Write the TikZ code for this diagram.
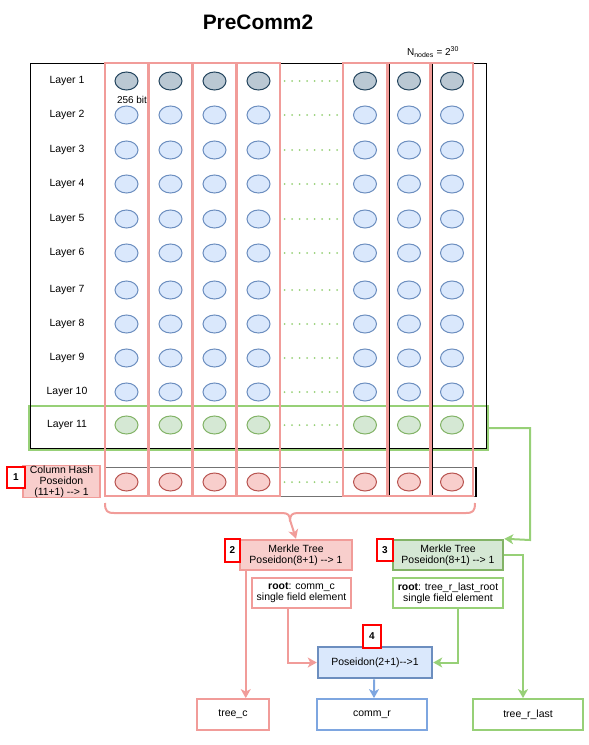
\documentclass[tikz,border=0pt]{standalone}
\usepackage{fontspec}
\setmainfont{Liberation Sans}
\usetikzlibrary{arrows.meta,shapes.geometric}
\definecolor{pinkln}{HTML}{F19C99}
\definecolor{redfill}{HTML}{F8CECC}
\definecolor{redln}{HTML}{B85450}
\definecolor{bluefill}{HTML}{DAE8FC}
\definecolor{blueln}{HTML}{6C8EBF}
\definecolor{ltblue}{HTML}{7EA6E0}
\definecolor{greenfill}{HTML}{D5E8D4}
\definecolor{greenln}{HTML}{82B366}
\definecolor{ltgreen}{HTML}{97D077}
\definecolor{greyfill}{HTML}{BAC8D3}
\definecolor{greyln}{HTML}{23445D}
\begin{document}
\begin{tikzpicture}[x=1bp,y=-1bp,
  txt/.style={font=\fontsize{10.5}{11}\selectfont, inner sep=0pt, align=center},
  ell/.style={ellipse, inner sep=0pt, minimum width=23bp, minimum height=18bp, line width=1bp},
  ellgrey/.style={ell, fill=greyfill, draw=greyln},
  ellblue/.style={ell, fill=bluefill, draw=blueln},
  ellgreen/.style={ell, fill=greenfill, draw=greenln},
  ellred/.style={ell, fill=redfill, draw=redln},
  colbox/.style={draw=pinkln, line width=2bp},
  dotline/.style={draw=ltgreen, line width=2bp, line cap=round, dash pattern=on 0bp off 7.5bp},
  numbox/.style={draw=red, line width=2bp, fill=white, inner sep=0pt, font=\bfseries\fontsize{10}{12}\selectfont},
  box/.style={txt, minimum height=30bp, fill=white, line width=1.8bp},
  pinkarrow/.style={draw=pinkln, line width=2bp, -{Stealth[length=9bp,width=10bp,inset=2.5bp]}},
  greenarrow/.style={draw=ltgreen, line width=2bp, -{Stealth[length=9bp,width=10bp,inset=2.5bp]}},
  bluearrow/.style={draw=ltblue, line width=2bp, -{Stealth[length=9bp,width=10bp,inset=2.5bp]}}
]
\useasboundingbox (0,0) rectangle (589,745);

% title
\node[font=\bfseries\fontsize{21}{24}\selectfont, inner sep=0pt] (title) at (258,22) {PreComm2};
\node[txt, font=\fontsize{10}{12}\selectfont] (nn) at (433,52) {N\textsubscript{nodes} = 2\textsuperscript{30}};

% layer 11 green box and main grid
\node[draw=ltgreen, line width=2bp, minimum width=459bp, minimum height=44bp, inner sep=0pt, anchor=north west] (l11) at (28,405) {};
\node[draw=black, line width=1bp, minimum width=456bp, minimum height=385bp, inner sep=0pt, anchor=north west] (grid) at (30,63) {};
% column hash row
\node[draw=black!55, line width=1bp, minimum width=370bp, minimum height=29bp, inner sep=0pt, anchor=north west] (hrow) at (105,467) {};
\draw[black, line width=1.3bp] (hrow.north east) -- (hrow.south east);

% pink column boxes
\foreach \a/\b in {105/148,149/192,193/236,237/280,343/387,388/430,431/473}{
  \draw[colbox] (\a,63) rectangle (\b,496);
}
\draw[black, line width=1bp] (389.5,64) -- (389.5,495);
\draw[black, line width=1bp] (432.5,64) -- (432.5,495);

% layer labels
\foreach \r/\y in {1/81,2/115,3/150,4/184,5/219,6/253,7/290,8/324,9/358,10/392,11/425}{
  \node[txt] (lab\r) at (67,\y) {Layer \r};
}
\node[txt, font=\fontsize{10}{12}\selectfont] (bits) at (132,100) {256 bit};

% ellipses
\foreach \c/\x in {1/126.5,2/170.5,3/214.5,4/258.5,5/365,6/409,7/452}{
  \node[ellgrey] (e\c-1) at (\x,81) {};
  \foreach \r/\y in {2/115,3/150,4/184,5/219,6/253,7/290,8/324,9/358,10/392}{
    \node[ellblue] (e\c-\r) at (\x,\y) {};
  }
  \node[ellgreen] (e\c-11) at (\x,425) {};
  \node[ellred] (e\c-h) at (\x,482) {};
}
% dotted continuation
\foreach \r in {1,2,3,4,5,6,7,8,9,10,11,h}{
  \draw[dotline] ([xshift=14bp]e4-\r.east) -- ([xshift=-12bp]e5-\r.west);
}

% column hash
\node[txt, fill=redfill, draw=pinkln, line width=1.5bp, minimum width=77bp, minimum height=30bp] (chash) at (61.5,481.5) {Column Hash\\Poseidon\\(11+1) -{}-{}> 1};
\node[numbox, minimum width=18bp, minimum height=21bp] (n1) at (16,477.5) {1};

% brace
\draw[draw=pinkln, line width=2bp, line join=round]
  (105,503) .. controls (105,511) and (107,513) .. (114,513) -- (282,513)
  .. controls (288,513) and (290,515) .. (290,521)
  .. controls (290,515) and (292,513) .. (298,513) -- (466,513)
  .. controls (473,513) and (475,511) .. (475,503);
\coordinate (btip) at (290,520);

% merkle trees
\node[box, fill=redfill, draw=pinkln, line width=2.5bp, minimum width=112bp] (m2) at (296,555) {Merkle Tree\\Poseidon(8+1) -{}-{}> 1};
\node[numbox, minimum width=15bp, minimum height=23bp] (n2) at (232.5,550.5) {2};
\node[box, fill=greenfill, draw=greenln, line width=2.5bp, minimum width=110bp] (m3) at (448,555) {Merkle Tree\\Poseidon(8+1) -{}-{}> 1};
\node[numbox, minimum width=16bp, minimum height=22bp] (n3) at (385,550) {3};

% roots
\node[box, draw=pinkln, minimum width=99bp] (r2) at (301.5,593) {\textbf{root}: comm\_c\\single field element};
\node[box, draw=ltgreen, minimum width=110bp] (r3) at (448,593) {\textbf{root}: tree\_r\_last\_root\\single field element};

% poseidon
\node[box, fill=bluefill, draw=blueln, line width=2.5bp, minimum width=114bp, minimum height=31bp] (pos) at (375,662.5) {Poseidon(2+1)-{}-{}>1};
\node[numbox, minimum width=18bp, minimum height=23bp] (n4) at (372,636.5) {4};

% outputs
\node[box, draw=pinkln, minimum width=72bp, minimum height=31bp] (tc) at (233,714.5) {tree\_c};
\node[box, draw=ltblue, minimum width=110bp, minimum height=31bp] (cr) at (372,714.5) {comm\_r};
\node[box, draw=ltgreen, minimum width=110bp, minimum height=31bp] (trl) at (528,714.5) {tree\_r\_last};

% connectors
\draw[pinkarrow] (btip) -- (m2.north);
\draw[greenarrow] (l11.east |- 0,428) -- (530,428) -- (530,540) -- (m3.north east);
\draw[pinkarrow] ([xshift=7bp]m2.south west) -- ([xshift=7bp]m2.south west |- tc.north);
\draw[pinkarrow] ([xshift=-13.5bp]r2.south) |- (pos.west);
\draw[greenarrow] ([xshift=10bp]r3.south) |- (pos.east);
\draw[greenarrow] (m3.east) -| ([xshift=-5bp]trl.north);
\draw[bluearrow] ([xshift=-1bp]pos.south) -- ([xshift=2bp]cr.north);
\end{tikzpicture}
\end{document}
